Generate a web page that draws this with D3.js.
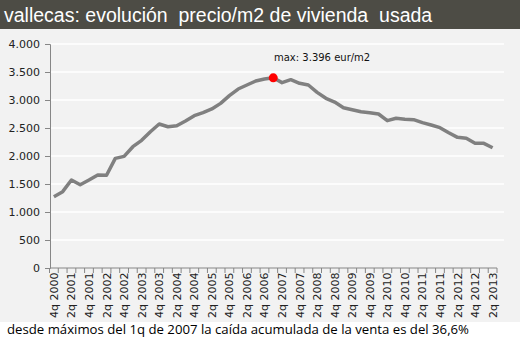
<html>
<script src='https://d3js.org/d3.v7.min.js'></script>
<style>
body { margin: 0; background: white; }
svg text { font-family: "DejaVu Sans", Verdana, sans-serif; }
</style>
<body>
<svg class="graph" width=520 height=348></svg>
<script>
// quarters from 4q 2000 to 2q 2013
var quarters = [];
for (var yr = 2000; yr <= 2013; yr++) {
    [1, 2, 3, 4].forEach(function(q) {
        if ((yr === 2000 && q < 4) || (yr === 2013 && q > 2)) return;
        quarters.push(q + "q " + yr);
    });
}

var prices = [1273, 1363, 1571, 1488, 1571, 1661, 1655, 1958, 1994, 2166,
              2280, 2434, 2571, 2523, 2541, 2625, 2720, 2775, 2840, 2940,
              3077, 3196, 3268, 3339, 3375, 3396, 3310, 3363, 3298, 3268,
              3137, 3030, 2964, 2863, 2827, 2791, 2774, 2750, 2631, 2673,
              2655, 2649, 2595, 2554, 2506, 2416, 2333, 2316, 2226, 2226,
              2148];

var yTicks = [0, 500, 1000, 1500, 2000, 2500, 3000, 3500, 4000];
var maxIndex = 25;

var svg = d3.select('svg');

// background
svg.append('rect').attr('x', 0).attr('y', 0).attr('width', 520).attr('height', 322).attr('fill', '#f2f2f2');
svg.append('rect').attr('x', 0).attr('y', 0).attr('width', 520).attr('height', 29).attr('fill', '#4d4c45');

svg.append('text')
    .attr('x', 4).attr('y', 22)
    .attr('fill', 'white')
    .style('font-family', '"Liberation Sans", Arial, sans-serif')
    .style('font-size', '19.5px')
    .style('white-space', 'pre')
    .text('vallecas: evolución  precio/m2 de vivienda  usada');

var x = d3.scaleBand().domain(quarters).range([49.5, 497]);
var y = d3.scaleLinear().domain([0, 4000]).range([268, 44]);

// grid
svg.append('g').selectAll('line')
    .data(yTicks.slice(1))
    .enter().append('line')
    .attr('x1', 50).attr('x2', 504)
    .attr('y1', function(d) { return y(d); })
    .attr('y2', function(d) { return y(d); })
    .attr('stroke', 'white').attr('stroke-width', 1.5);

// y axis
var yAxis = svg.append('g')
    .attr('transform', 'translate(50,0)')
    .call(d3.axisLeft(y).tickValues(yTicks).tickSize(5).tickPadding(5)
        .tickFormat(function(d) { return d3.format(',')(d).replace(',', '.'); }));
yAxis.select('.domain').attr('stroke', '#868686');
yAxis.selectAll('.tick line').attr('stroke', '#868686');
yAxis.selectAll('text').style('font-size', '11px').attr('fill', '#222');

// x axis
var xAxis = svg.append('g').attr('transform', 'translate(0,268)');
xAxis.append('line').attr('x1', 50).attr('x2', 497).attr('stroke', '#868686');
xAxis.selectAll('.tk')
    .data(quarters.concat(['end']))
    .enter().append('line')
    .attr('x1', function(d, i) { return x.range()[0] + i * x.step(); })
    .attr('x2', function(d, i) { return x.range()[0] + i * x.step(); })
    .attr('y1', 0).attr('y2', 5)
    .attr('stroke', '#868686');
xAxis.selectAll('text')
    .data(quarters.filter(function(d, i) { return i % 2 === 0; }))
    .enter().append('text')
    .attr('transform', function(d) {
        return 'translate(' + (x(d) + x.bandwidth() / 2 + 4) + ',50) rotate(-90)';
    })
    .style('font-size', '11px')
    .attr('fill', '#222')
    .text(function(d) { return d; });

// line
var line = d3.line()
    .x(function(d, i) { return x(quarters[i]) + x.bandwidth() / 2; })
    .y(function(d) { return y(d); });

svg.append('path')
    .datum(prices)
    .attr('d', line)
    .attr('fill', 'none')
    .attr('stroke', '#808080')
    .attr('stroke-width', 3.5)
    .attr('stroke-linejoin', 'round');

svg.append('circle')
    .attr('cx', x(quarters[maxIndex]) + x.bandwidth() / 2)
    .attr('cy', y(prices[maxIndex]))
    .attr('r', 4.5)
    .attr('fill', '#ff0000');

svg.append('text')
    .attr('x', 274).attr('y', 61)
    .style('font-size', '10px')
    .attr('fill', '#111')
    .text('max: ' + d3.format(',')(prices[maxIndex]).replace(',', '.') + ' eur/m2');

svg.append('text')
    .attr('x', 7).attr('y', 334)
    .style('font-family', '"Open Sans", "Liberation Sans", sans-serif')
    .style('font-size', '12.5px')
    .attr('textLength', 462)
    .attr('lengthAdjust', 'spacingAndGlyphs')
    .attr('fill', 'black')
    .text('desde máximos del 1q de 2007 la caída acumulada de la venta es del 36,6%');
</script>
</body>
</html>
